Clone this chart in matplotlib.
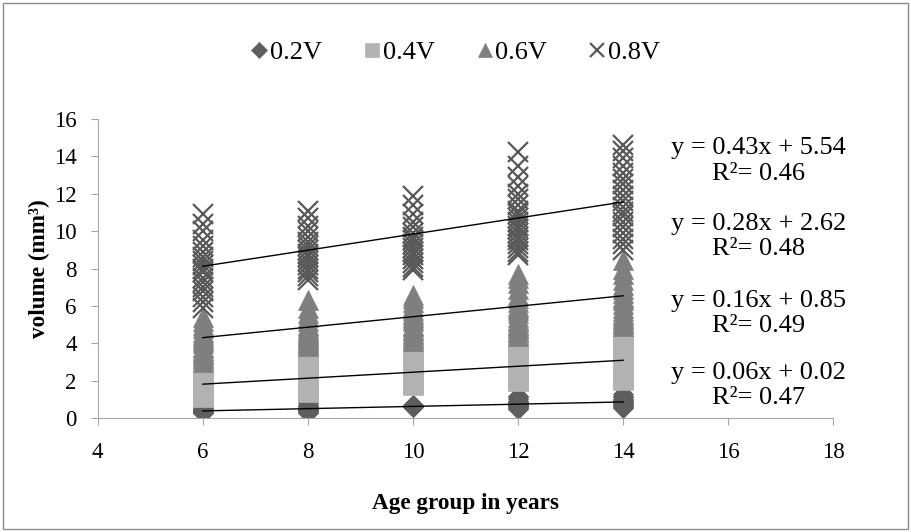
import numpy as np
import matplotlib
matplotlib.use("Agg")
import matplotlib.pyplot as plt
from matplotlib.patches import Rectangle

plt.rcParams['font.family'] = ['Liberation Serif', 'DejaVu Serif']

ages = [6, 8, 10, 12, 14]
labels = ['0.2V', '0.4V', '0.6V', '0.8V']

# volume readings per age group (one list per age)
v02 = [
    [0.25, 0.28, 0.3, 0.32, 0.35, 0.35, 0.38, 0.4, 0.42, 0.45, 0.5, 0.55, 0.6, 0.7],
    [0.26, 0.3, 0.35, 0.4, 0.42, 0.45, 0.5, 0.5, 0.55, 0.6, 0.65, 0.7, 0.8, 0.9],
    [0.58, 0.6, 0.62, 0.64, 0.66, 0.68, 0.7],
    [0.5, 0.55, 0.6, 0.62, 0.65, 0.7, 0.72, 0.75, 0.8, 0.85, 0.9, 1.0, 1.1, 1.2],
    [0.55, 0.6, 0.65, 0.7, 0.75, 0.8, 0.85, 0.9, 0.95, 1.0, 1.1, 1.2, 1.3],
]
v04 = [
    [1.15, 1.2, 1.3, 1.4, 1.5, 1.6, 1.7, 1.8, 1.9, 2.0, 2.1, 2.2, 2.4, 2.6, 2.8],
    [1.4, 1.5, 1.6, 1.7, 1.8, 1.9, 2.0, 2.1, 2.2, 2.3, 2.5, 2.7, 3.0, 3.3, 3.6],
    [1.75, 1.8, 1.9, 2.0, 2.1, 2.2, 2.3, 2.4, 2.5, 2.6, 2.8, 3.0, 3.3, 3.6, 3.85],
    [2.0, 2.1, 2.2, 2.3, 2.4, 2.5, 2.6, 2.7, 2.8, 2.9, 3.0, 3.2, 3.4, 3.7, 4.0, 4.3],
    [2.05, 2.2, 2.3, 2.5, 2.6, 2.7, 2.8, 2.9, 3.0, 3.1, 3.3, 3.5, 3.8, 4.1, 4.4, 4.6],
]
v06 = [
    [3.0, 3.2, 3.4, 3.6, 3.8, 4.0, 4.1, 4.2, 4.3, 4.4, 4.5, 4.6, 4.8, 5.0, 5.2, 5.4],
    [3.85, 4.0, 4.2, 4.3, 4.4, 4.5, 4.6, 4.7, 4.8, 4.9, 5.0, 5.2, 5.4, 5.6, 5.9, 6.3],
    [4.1, 4.3, 4.5, 4.7, 4.9, 5.0, 5.2, 5.3, 5.4, 5.5, 5.6, 5.8, 6.0, 6.2, 6.4, 6.6],
    [4.4, 4.6, 4.8, 5.0, 5.2, 5.4, 5.6, 5.8, 5.9, 6.0, 6.2, 6.4, 6.6, 6.9, 7.2, 7.5, 7.7],
    [4.9, 5.1, 5.3, 5.5, 5.7, 5.9, 6.1, 6.3, 6.4, 6.5, 6.7, 6.9, 7.1, 7.4, 7.7, 8.0, 8.45],
]
v08 = [
    [5.9, 6.2, 6.5, 6.8, 7.0, 7.3, 7.5, 7.8, 8.0, 8.2, 8.4, 8.6, 8.9, 9.2, 9.5, 10.0, 10.4, 10.9],
    [7.4, 7.6, 7.8, 8.0, 8.2, 8.4, 8.6, 8.8, 9.0, 9.2, 9.4, 9.7, 10.0, 10.3, 10.7, 11.1],
    [7.9, 8.1, 8.3, 8.5, 8.7, 8.9, 9.1, 9.3, 9.5, 9.7, 9.9, 10.2, 10.5, 10.9, 11.4, 11.9],
    [8.7, 8.9, 9.1, 9.3, 9.5, 9.7, 9.9, 10.1, 10.3, 10.5, 10.7, 10.9, 11.1, 11.4, 11.7,
     12.0, 12.4, 12.9, 13.5, 14.25],
    [9.0, 9.3, 9.6, 9.9, 10.2, 10.5, 10.8, 11.0, 11.3, 11.6, 11.9, 12.2, 12.5, 12.8, 13.1,
     13.5, 13.9, 14.3, 14.6],
]

# linear trend lines as printed on the chart
slopes = [0.06, 0.16, 0.28, 0.43]
intercepts = [0.02, 0.85, 2.62, 5.54]
r2 = [0.47, 0.49, 0.48, 0.46]

series = [v02, v04, v06, v08]
markers = ['D', 's', '^', 'x']
msizes = [10.2, 14, 14, 14]
colors = ['#5e5e5e', '#b2b2b2', '#7f7f7f', '#595959']

fig = plt.figure(figsize=(9.11, 5.32), dpi=100)
ax = fig.add_axes([0.1072, 0.2143, 0.8075, 0.562])

handles = []
for vals, mk, ms, c, lab in zip(series, markers, msizes, colors, labels):
    xs = [a for a, grp in zip(ages, vals) for _ in grp]
    ys = [v for grp in vals for v in grp]
    h, = ax.plot(xs, ys, linestyle='none', marker=mk, markersize=ms,
                 color=c, markeredgecolor=c,
                 markeredgewidth=1.6 if mk == 'x' else 0.5, label=lab)
    handles.append(h)

xl = np.array([ages[0], ages[-1]])
for m, b in zip(slopes, intercepts):
    ax.plot(xl, m * xl + b, color='black', linewidth=1.0)

# equation labels
eq_y = [1.75, 5.6, 9.7, 13.75]
for m, b, r, yy in zip(slopes, intercepts, r2, eq_y):
    ax.text(16.57, yy, f'y = {m:.2f}x + {b:.2f}\nR\u00b2= {r:.2f}',
            ha='center', va='center', multialignment='center',
            fontsize=19, linespacing=1.2)

ax.set_xlim(4, 18)
ax.set_ylim(0, 16)
ax.set_xticks(range(4, 19, 2))
ax.set_yticks(range(0, 17, 2))
for s in ['top', 'right']:
    ax.spines[s].set_visible(False)
for s in ['left', 'bottom']:
    ax.spines[s].set_color('#a6a6a6')
ax.tick_params(axis='both', direction='out', length=5, color='#a6a6a6',
               labelsize=16.5)
ax.tick_params(axis='x', pad=12)
ax.tick_params(axis='y', pad=10)

ax.set_xlabel('Age group in years', fontsize=16.7, fontweight='bold', labelpad=22)
ax.set_ylabel('volume (mm\u00b3)', fontsize=16.7, fontweight='bold', labelpad=3)

fig.legend(handles=handles, labels=labels, loc='center', ncol=4,
           bbox_to_anchor=(0.5, 0.902), frameon=False, fontsize=19,
           markerscale=0.75, handlelength=0.6, handletextpad=0.1,
           columnspacing=1.6)

fig.add_artist(Rectangle((0.003, 0.005), 0.994, 0.99, transform=fig.transFigure,
                         fill=False, edgecolor='#8c8c8c', linewidth=1.0))

fig.savefig('out.png', dpi=100)
